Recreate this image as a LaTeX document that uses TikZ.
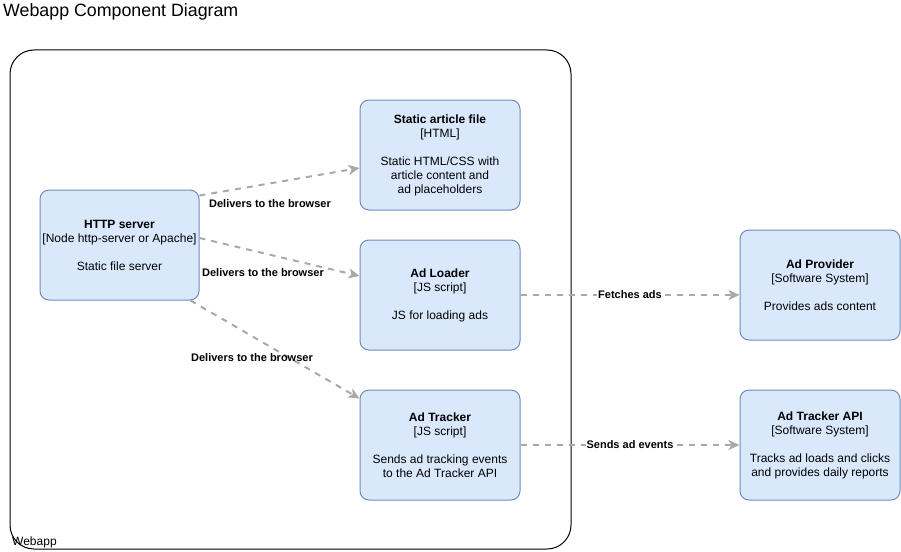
\documentclass[tikz,border=0pt]{standalone}
\usepackage{fontspec}
\setmainfont{Liberation Sans}
\usetikzlibrary{arrows.meta}
\definecolor{boxFill}{HTML}{DAE8FC}
\definecolor{boxStroke}{HTML}{6C8EBF}
\definecolor{edgeGray}{HTML}{A9A9A9}

\begin{document}
\begin{tikzpicture}[x=1pt, y=-1pt,
	component/.style={draw=boxStroke, fill=boxFill, rounded corners=9pt, line width=1pt, minimum width=160pt, minimum height=110pt, align=center, inner sep=0pt, font=\fontsize{12}{14}\selectfont},
	flow/.style={draw=edgeGray, line width=2pt, dash pattern=on 6pt off 6pt, -{Stealth[length=11pt, width=10pt, inset=3pt]}},
	flowLabel/.style={font=\bfseries\fontsize{11}{13}\selectfont, inner sep=1pt}]
	\useasboundingbox (0,0) rectangle (901,551);
	\node[anchor=west, font=\fontsize{17.8}{20}\selectfont, inner sep=0pt] (title) at (3,12) {Webapp Component Diagram};
	\node[draw, line width=1pt, rounded corners=24pt, minimum width=561pt, minimum height=499pt, inner sep=0pt] (webapp) at (290.5,299.5) {};
	\node[anchor=base west, font=\fontsize{12}{14}\selectfont, inner sep=0pt] (webappLbl) at (12,545) {Webapp};
	\node[component, minimum width=159pt] (httpServer) at (119.5,245) {\textbf{HTTP server}\\{}[Node http-server or Apache]\\[14pt]Static file server};
	\node[component] (articleFile) at (440,155) {\textbf{Static article file}\\{}[HTML]\\[14pt]Static HTML/CSS with\\article content and\\ad placeholders};
	\node[component] (adLoader)    at (440,295) {\textbf{Ad Loader}\\{}[JS script]\\[14pt]JS for loading ads};
	\node[component] (adTracker)   at (440,445) {\textbf{Ad Tracker}\\{}[JS script]\\[14pt]Sends ad tracking events\\to the Ad Tracker API};
	\node[component] (adProvider)  at (820,285) {\textbf{Ad Provider}\\{}[Software System]\\[14pt]Provides ads content};
	\node[component] (trackerApi)  at (820,445) {\textbf{Ad Tracker API}\\{}[Software System]\\[14pt]Tracks ad loads and clicks\\and provides daily reports};
	\draw[flow] ([yshift=-6pt]httpServer.north east) -- ([yshift=-13pt]articleFile.west);
	\draw[flow] ([yshift=7pt]httpServer.east) -- ([yshift=19pt]adLoader.west);
	\draw[flow] ([xshift=-9pt]httpServer.south east) -- ([yshift=-9pt]adTracker.north west);
	\draw[flow] (adLoader.east) -- node[flowLabel, fill=white] (fetchLbl) {Fetches ads} ([yshift=-10pt]adProvider.west);
	\draw[flow] (adTracker.east) -- node[flowLabel, fill=white] (sendLbl) {Sends ad events} (trackerApi.west);
	\node[flowLabel] (deliverLblA) at (270,204) {Delivers to the browser};
	\node[flowLabel] (deliverLblB) at (263,273) {Delivers to the browser};
	\node[flowLabel] (deliverLblC) at (252,358) {Delivers to the browser};
\end{tikzpicture}
\end{document}
